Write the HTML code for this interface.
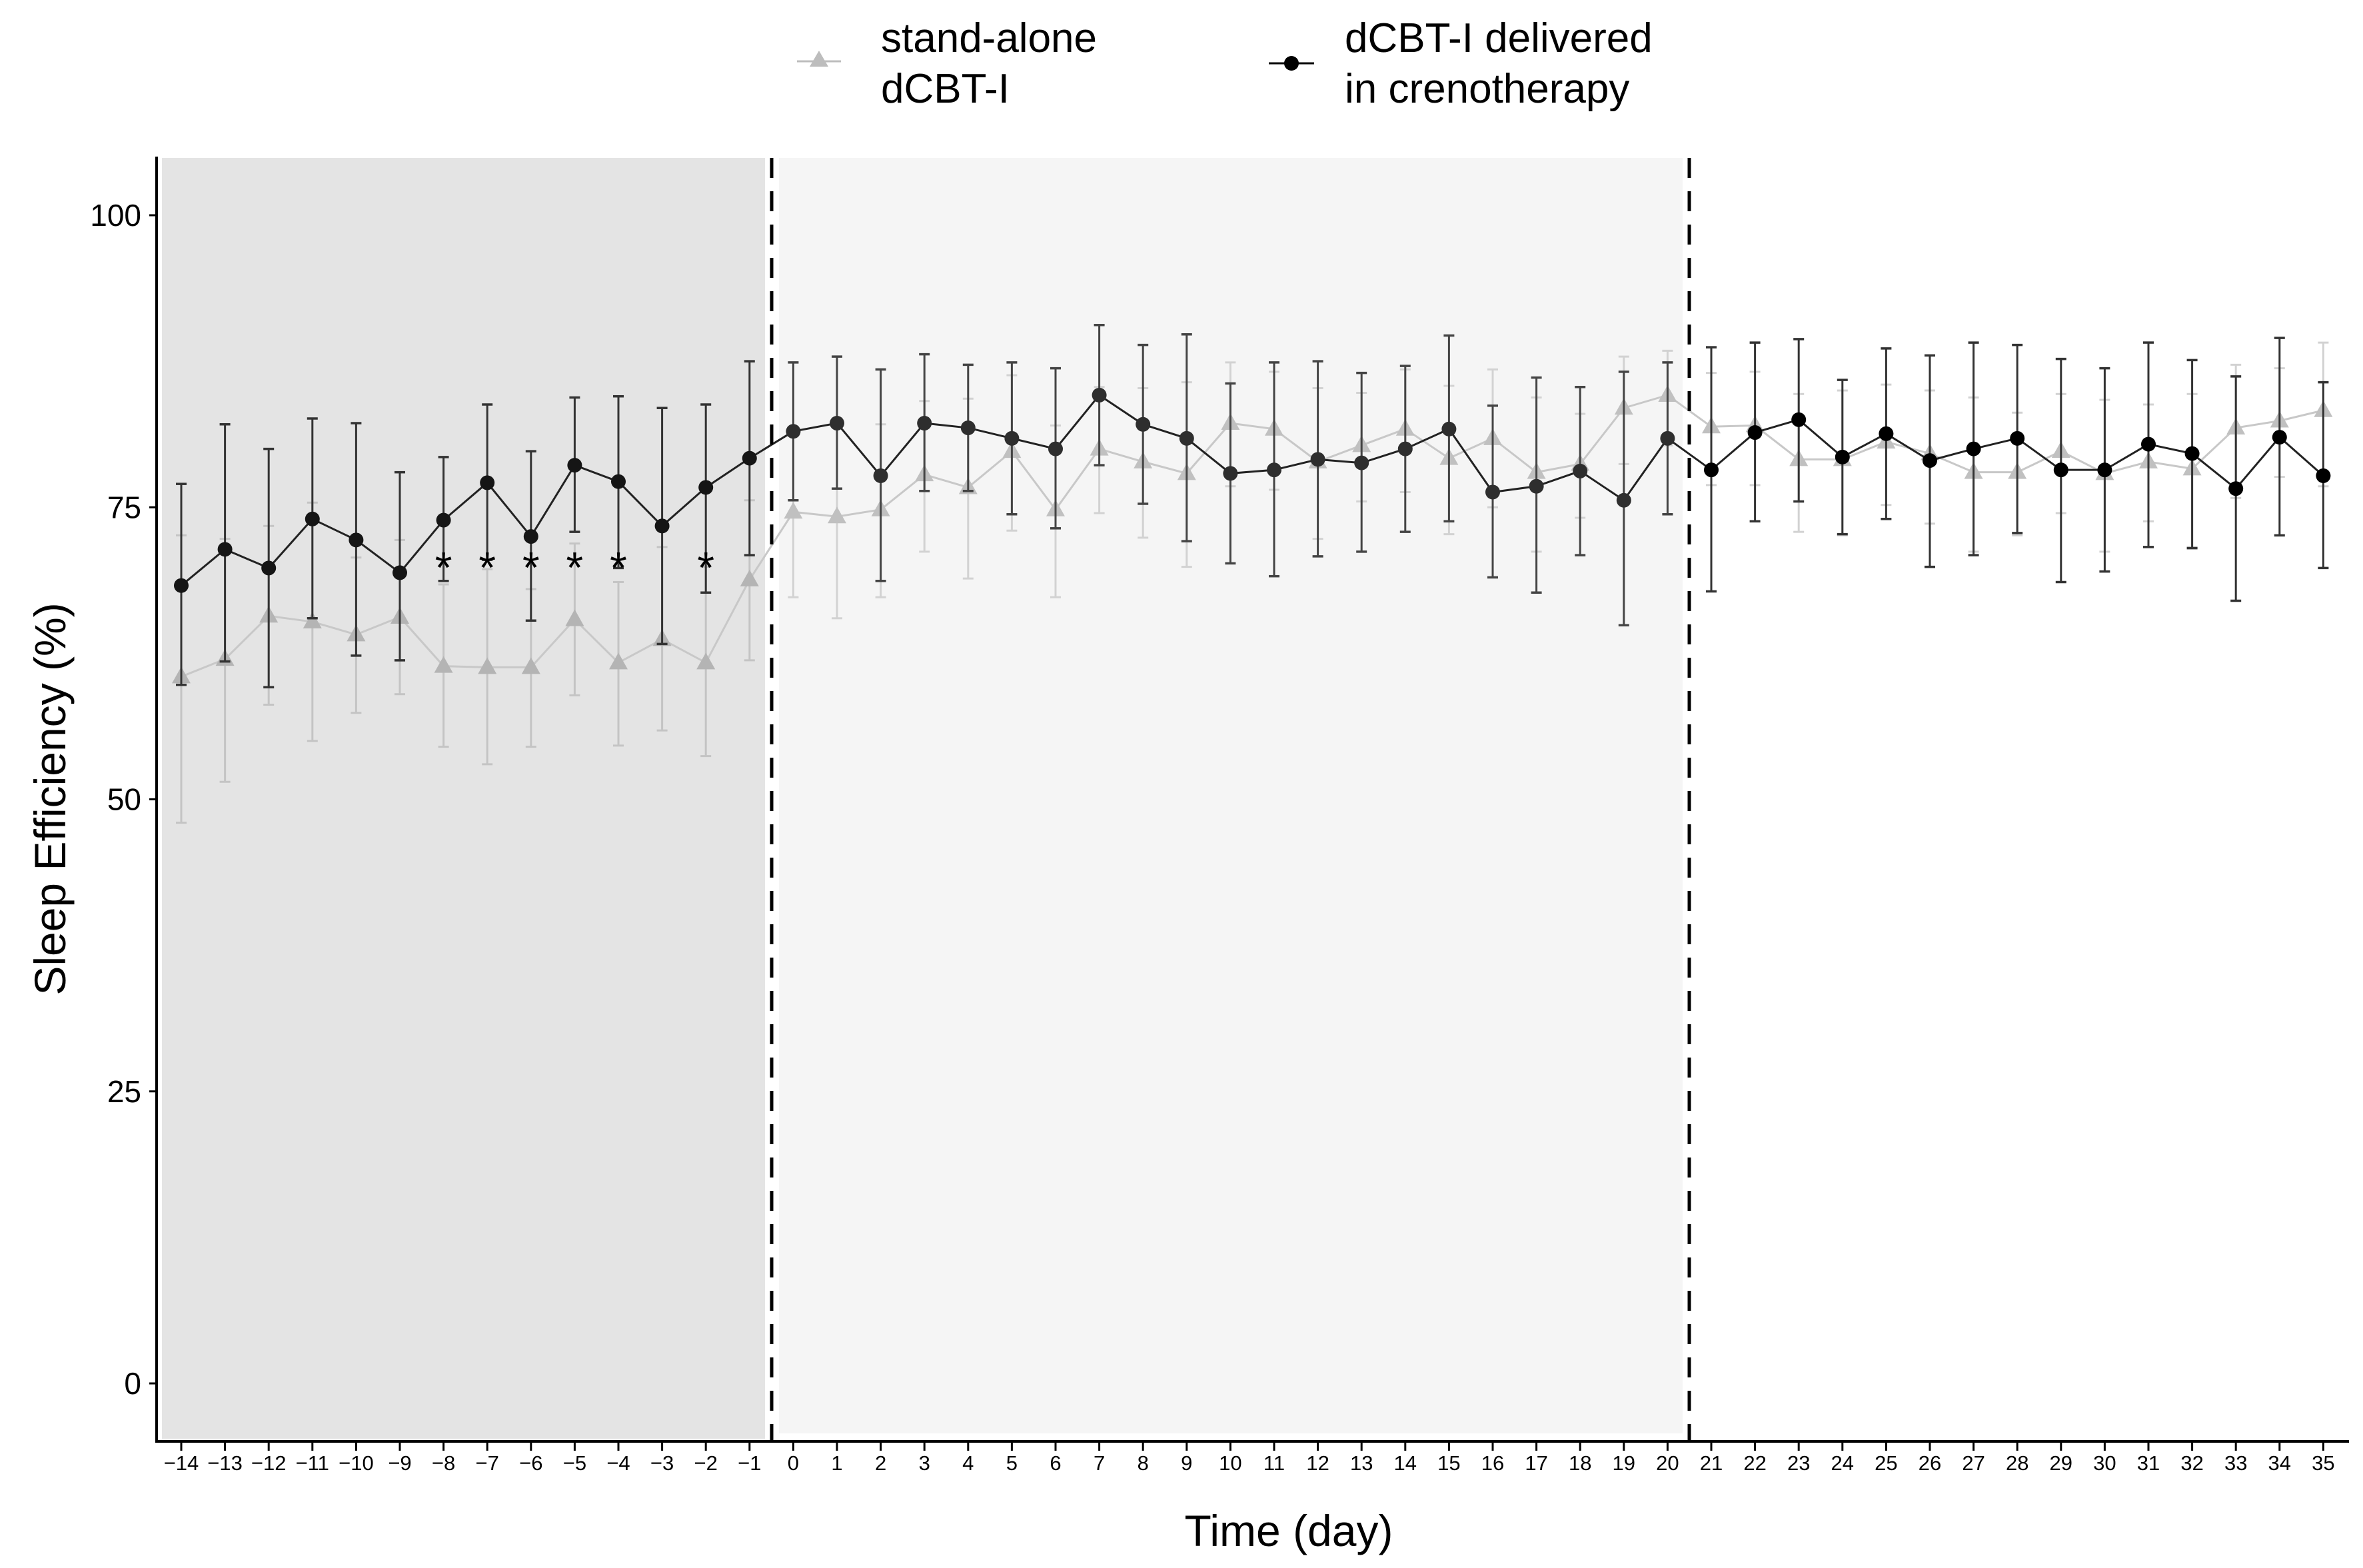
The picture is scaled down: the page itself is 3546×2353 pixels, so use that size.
<!DOCTYPE html>
<html><head><meta charset="utf-8"><style>
html,body{margin:0;padding:0;background:#fff;}
svg{display:block;font-family:"Liberation Sans",sans-serif;}
</style></head><body>
<svg id="chart" width="3546" height="2353" viewBox="0 0 3546 2353" xmlns="http://www.w3.org/2000/svg">
<g>
  <line x1="1196" y1="92" x2="1262" y2="92" stroke="#bdbdbd" stroke-width="3"/>
  <polygon points="1229,76 1243,100 1215,100" fill="#bdbdbd"/>
  <text x="1322" y="78" font-size="62" fill="#000"><tspan x="1322">stand-alone</tspan><tspan x="1322" dy="76">dCBT-I</tspan></text>
  <line x1="1904" y1="95" x2="1972" y2="95" stroke="#000" stroke-width="3"/>
  <circle cx="1938" cy="95" r="11" fill="#000"/>
  <text x="2018" y="78" font-size="62" fill="#000"><tspan x="2018">dCBT-I delivered</tspan><tspan x="2018" dy="76">in crenotherapy</tspan></text>
</g>
<rect x="243" y="237" width="905" height="1922" fill="#e4e4e4"/>
<rect x="1169" y="237" width="1356" height="1914" fill="#f5f5f5"/>
<g id="marks"></g>
<line x1="1158" y1="237" x2="1158" y2="2163" stroke="#000" stroke-width="5" stroke-dasharray="30,20"/>
<line x1="2535" y1="237" x2="2535" y2="2163" stroke="#000" stroke-width="5" stroke-dasharray="30,20"/>
<line x1="235" y1="235" x2="235" y2="2165" stroke="#000" stroke-width="4"/>
<line x1="233" y1="2163" x2="3525" y2="2163" stroke="#000" stroke-width="4"/>
<g id="axes"></g>
<text x="1934" y="2320" font-size="66" text-anchor="middle">Time (day)</text>
<text transform="translate(98,1199) rotate(-90)" font-size="66" text-anchor="middle">Sleep Efficiency (%)</text>
</svg>
<script>
const days = [-14,-13,-12,-11,-10,-9,-8,-7,-6,-5,-4,-3,-2,-1,0,1,2,3,4,5,6,7,8,9,10,11,12,13,14,15,16,17,18,19,20,21,22,23,24,25,26,27,28,29,30,31,32,33,34,35];
const crenoMean = [68.3,71.4,69.8,74.0,72.2,69.4,73.9,77.1,72.5,78.6,77.2,73.4,76.7,79.2,81.5,82.2,77.7,82.2,81.8,80.9,80.0,84.6,82.1,80.9,77.9,78.2,79.1,78.8,80.0,81.7,76.3,76.8,78.1,75.6,80.9,78.2,81.4,82.5,79.3,81.3,79.0,80.0,80.9,78.2,78.2,80.4,79.6,76.6,81.0,77.7];
const crenoUpper = [77.0,82.1,80.0,82.6,82.2,78.0,79.3,83.8,79.8,84.4,84.5,83.5,83.8,87.5,87.4,87.9,86.8,88.1,87.2,87.4,86.9,90.6,88.9,89.8,85.6,87.4,87.5,86.5,87.1,89.7,83.7,86.1,85.3,86.6,87.4,88.7,89.1,89.4,85.9,88.6,88.0,89.1,88.9,87.7,86.9,89.1,87.6,86.2,89.5,85.7];
const crenoLower = [59.8,61.8,59.6,65.5,62.3,61.9,68.7,70.5,65.3,72.9,69.8,63.3,67.7,70.9,75.6,76.6,68.7,76.4,76.4,74.4,73.2,78.6,75.3,72.1,70.2,69.1,70.8,71.2,72.9,73.8,69.0,67.7,70.9,64.9,74.4,67.8,73.8,75.5,72.7,74.0,69.9,70.9,72.8,68.6,69.5,71.6,71.5,67.0,72.6,69.8];
const aloneMean = [60.5,62.0,65.7,65.2,64.1,65.6,61.4,61.3,61.3,65.4,61.7,63.7,61.7,68.8,74.6,74.2,74.8,77.8,76.7,79.8,74.8,80.0,78.9,77.9,82.2,81.7,78.9,80.3,81.7,79.2,80.9,78.0,78.7,83.5,84.6,81.9,82.0,79.1,79.1,80.6,79.6,78.0,78.0,79.8,77.9,78.9,78.3,81.8,82.4,83.3];
const aloneUpper = [72.6,72.3,73.4,75.4,70.7,72.2,68.4,69.7,68.0,71.9,68.6,71.6,69.9,75.6,81.6,82.6,82.1,84.1,84.3,86.3,82.0,85.3,85.2,85.7,87.4,86.6,85.2,84.8,86.8,85.4,86.8,84.4,83.0,87.9,88.4,86.5,86.6,84.7,85.0,85.5,85.0,84.4,83.1,84.7,84.2,83.8,84.7,87.2,86.9,89.1];
const aloneLower = [48.0,51.5,58.1,55.0,57.4,59.0,54.5,53.0,54.5,58.9,54.6,55.9,53.7,61.9,67.3,65.5,67.3,71.2,68.9,73.0,67.3,74.5,72.4,69.9,76.8,76.5,72.3,75.5,76.3,72.7,75.0,71.2,74.1,78.7,80.3,76.9,76.9,72.9,72.6,75.2,73.6,71.2,72.6,74.5,71.2,73.8,71.6,75.8,77.6,76.8];
const sigDays = [-8,-7,-6,-5,-4,-2];
const yTicks = [0,25,50,75,100];

const NS="http://www.w3.org/2000/svg";
const xS = d => 272 + (d + 14) * 65.6;
const yS = v => 2076 - v * 17.53;
const marks = document.getElementById('marks');
const axes = document.getElementById('axes');
function mk(tag, attrs, parent){const e=document.createElementNS(NS,tag);for(const k in attrs)e.setAttribute(k,attrs[k]);parent.appendChild(e);return e;}
function ptsFor(arr){return days.map((d,i)=>xS(d)+','+yS(arr[i])).join(' ');}

days.forEach((d,i)=>{
  const x=xS(d), c=d<0?'#c4c4c4':'#d2d2d2';
  const g=mk('g',{},marks);
  
  
  mk('line',{x1:x,x2:x,y1:yS(aloneUpper[i]),y2:yS(aloneLower[i]),stroke:c,'stroke-width':3},g);
  mk('line',{x1:x-8,x2:x+8,y1:yS(aloneUpper[i]),y2:yS(aloneUpper[i]),stroke:c,'stroke-width':3},g);
  mk('line',{x1:x-8,x2:x+8,y1:yS(aloneLower[i]),y2:yS(aloneLower[i]),stroke:c,'stroke-width':3},g);
});
const la=mk('polyline',{points:ptsFor(aloneMean),fill:'none',stroke:'#c8c8c8','stroke-width':3},marks);


days.forEach((d,i)=>{
  const x=xS(d), y=yS(aloneMean[i]);
  const t=mk('polygon',{points:`${x},${y-15} ${x+14},${y+10} ${x-14},${y+10}`,fill:d<0?'#b4b4b4':'#c0c0c0'},marks);
  
  
});

days.forEach((d,i)=>{
  const x=xS(d), c=d<0?'#333':(d<=20?'#444':'#333');
  const g=mk('g',{},marks);
  
  
  mk('line',{x1:x,x2:x,y1:yS(crenoUpper[i]),y2:yS(crenoLower[i]),stroke:c,'stroke-width':3},g);
  mk('line',{x1:x-8,x2:x+8,y1:yS(crenoUpper[i]),y2:yS(crenoUpper[i]),stroke:c,'stroke-width':3.5},g);
  mk('line',{x1:x-8,x2:x+8,y1:yS(crenoLower[i]),y2:yS(crenoLower[i]),stroke:c,'stroke-width':3.5},g);
});
const lc=mk('polyline',{points:ptsFor(crenoMean),fill:'none',stroke:'#222','stroke-width':3},marks);


days.forEach((d,i)=>{
  const c=mk('circle',{cx:xS(d),cy:yS(crenoMean[i]),r:11,fill:d<0?'#151515':(d<=20?'#2e2e2e':'#000')},marks);
  
  
});
sigDays.forEach(d=>{
  const t=mk('text',{x:xS(d),y:yS(70.7)+38,'font-size':66,'text-anchor':'middle',fill:'#000'},marks);
  t.textContent='*';
  
  
});

yTicks.forEach(v=>{
  const y=yS(v);
  const tk=mk('line',{x1:224,x2:235,y1:y,y2:y,stroke:'#000','stroke-width':3},axes);
  
  
  const t=mk('text',{x:212,y:y+16,'font-size':46,'text-anchor':'end',fill:'#000'},axes);
  t.textContent=String(v);
  
  
});
days.forEach(d=>{
  const x=xS(d);
  const tk=mk('line',{x1:x,x2:x,y1:2163,y2:2177,stroke:'#000','stroke-width':3},axes);
  
  
  const t=mk('text',{x:x,y:2206,'font-size':31,'text-anchor':'middle',fill:'#000'},axes);
  t.textContent=d<0?'\u2212'+Math.abs(d):String(d);
  
  
});
</script>
</body></html>
